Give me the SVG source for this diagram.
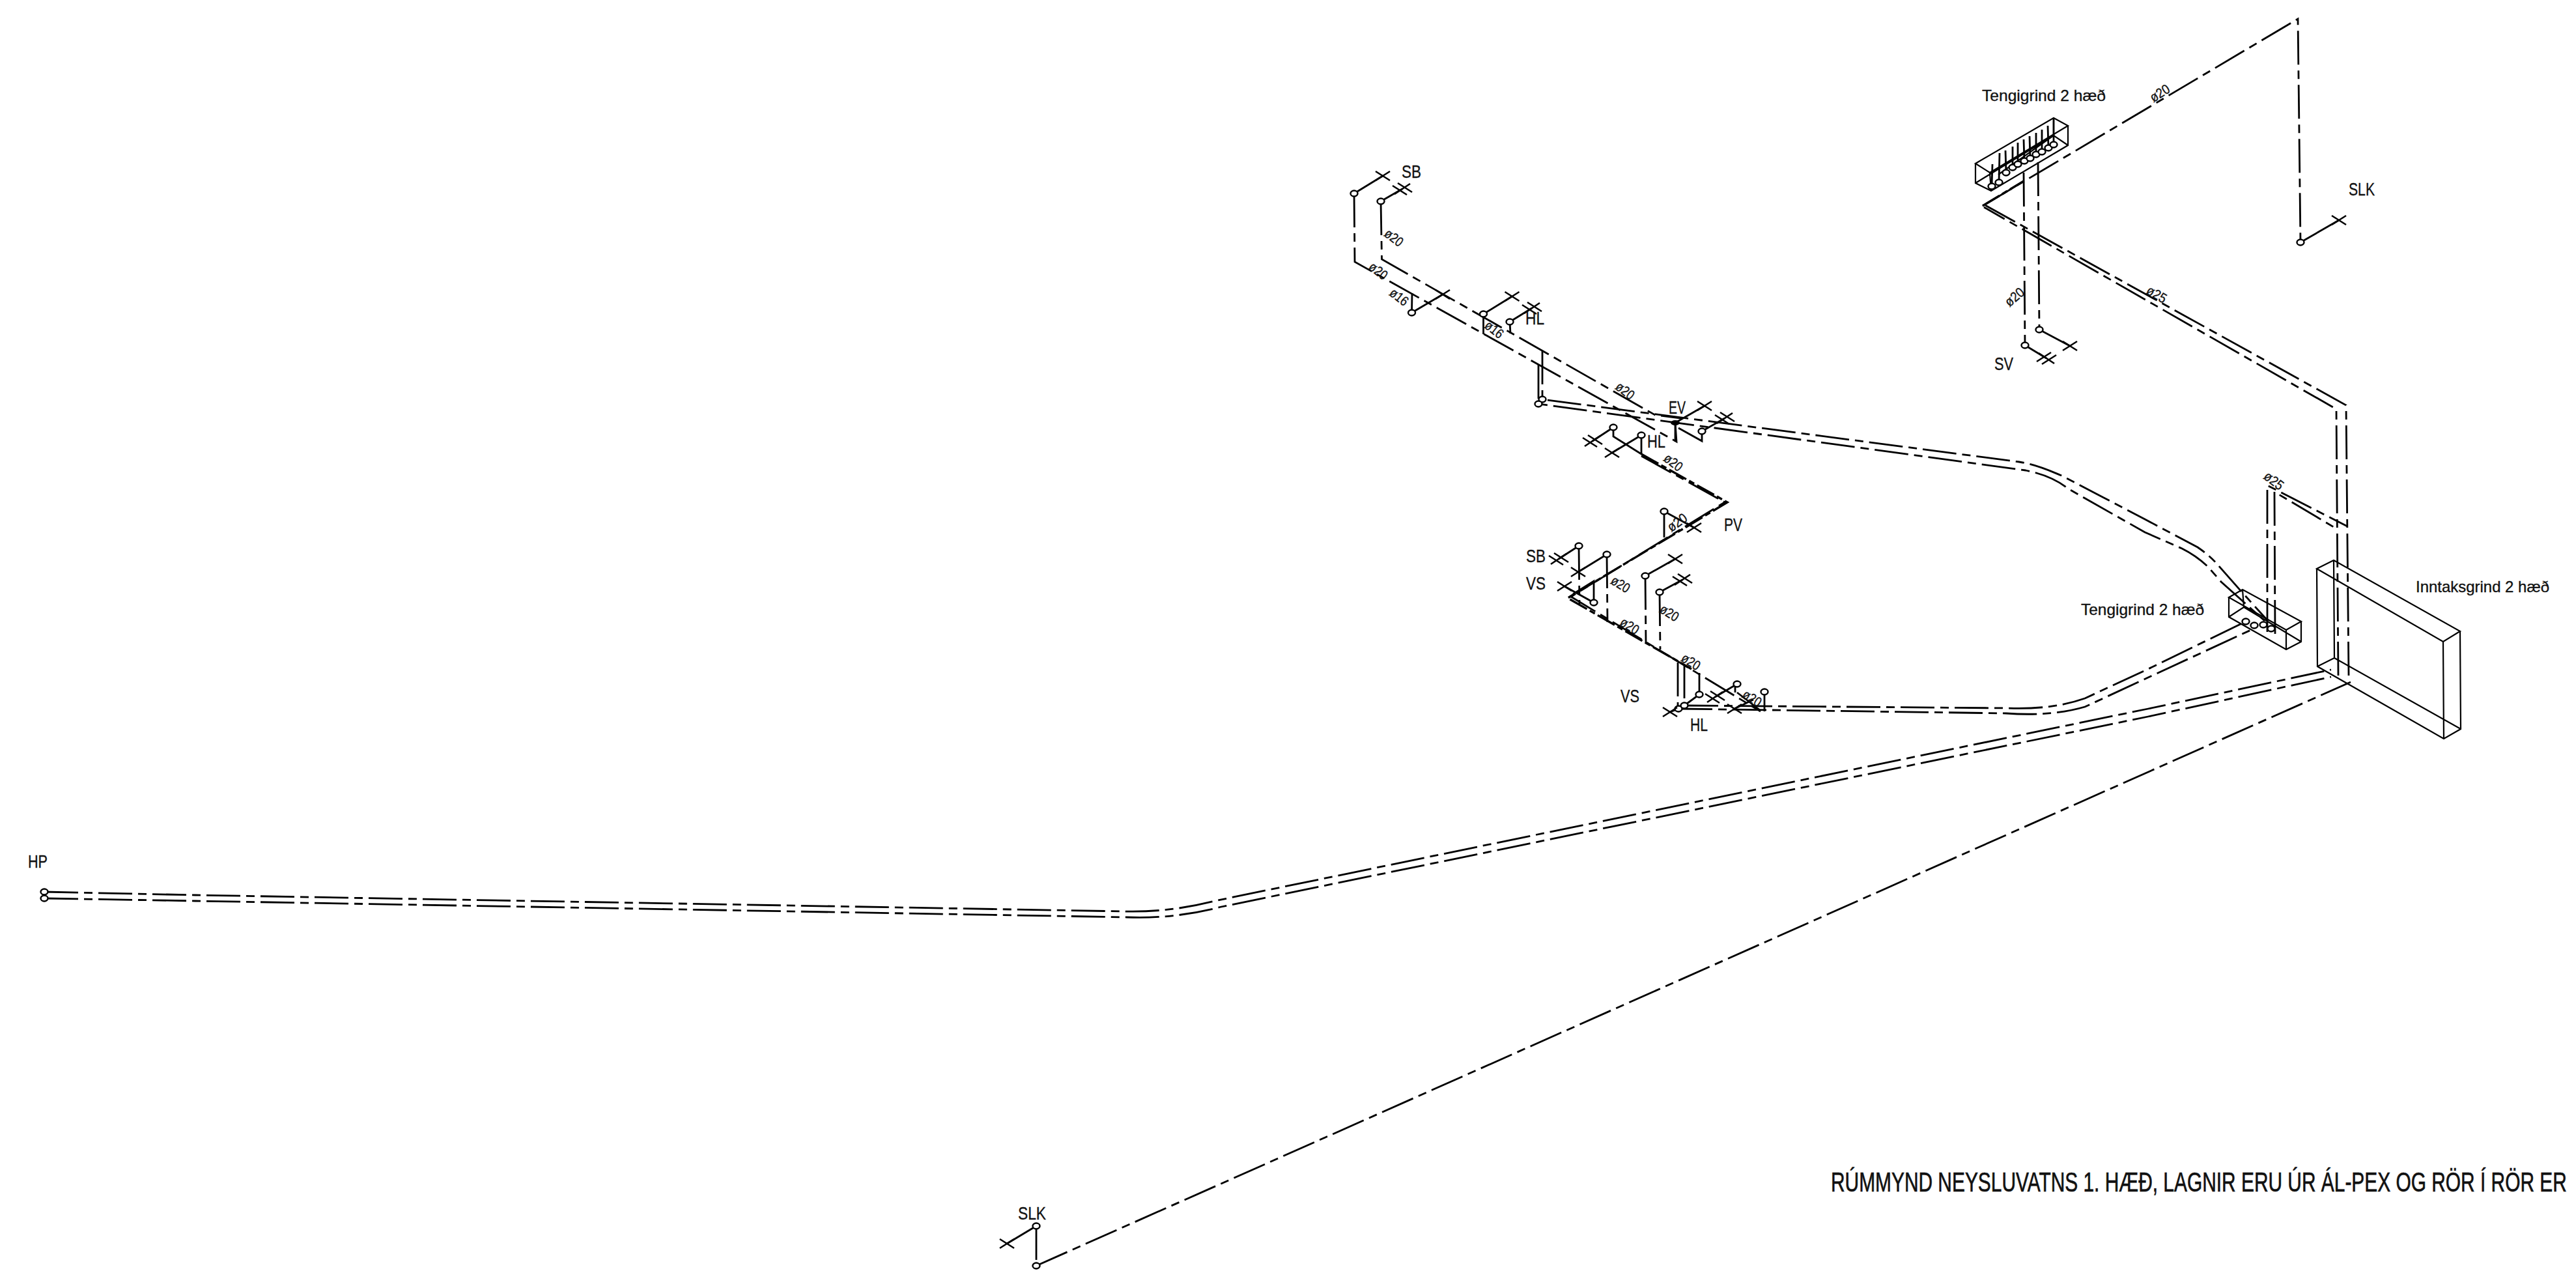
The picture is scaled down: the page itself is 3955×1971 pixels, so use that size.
<svg xmlns="http://www.w3.org/2000/svg" xmlns:xlink="http://www.w3.org/1999/xlink" width="3955" height="1971" viewBox="0 0 3955 1971">
<style>
text{font-family:"Liberation Sans",Arial,sans-serif;fill:#111;stroke:#111;stroke-width:.35}
.l{font-size:28px}.s{font-size:24px}.d{font-size:21px;text-anchor:middle}.t{font-size:42px;stroke-width:.7}
.p,.u,.k,.c,.b,.m line{fill:none;stroke:#000}
.p{stroke-width:2.8;stroke-dasharray:52 9 13 9}
.u{stroke-width:2.8}
.k{stroke-width:3.4;stroke-dasharray:30 5 9 5}
.b{stroke-width:2.2}
.c{fill:#fff;stroke-width:2.4}
.m line{stroke-width:2.6}
</style>
<defs>
<g id="x" class="m"><line x1="-11" y1="-7" x2="11" y2="7"/><line x1="-11" y1="7" x2="11" y2="-7"/></g>
<g id="xx" class="m"><line x1="-15" y1="-5" x2="7" y2="9"/><line x1="-7" y1="-9" x2="15" y2="5"/><line x1="-12" y1="8" x2="12" y2="-8"/></g>
<ellipse id="o" class="c" rx="5.5" ry="4.5"/>
</defs>
<rect width="3955" height="1971" fill="#fff"/>

<g id="connectors">
<path class="p" d="M2079,297 L2080,402 L2574,678 L2572,649"/>
<path class="p" d="M2120,309 L2121.5,398 L2541,637 L2581,642"/>
<path class="p" d="M2368,538 L2368,613 L3100,709 C3130,714 3150,724 3165,730 L3293,797 L3374,840 Q3393,853 3405,867 L3443,910 L3482,953"/>
<path class="p" d="M2362,560 L2362,620 L3110,722 Q3150,730 3175,750 L3293,817 L3350,842 Q3372,853 3390,870 L3410,893 L3477,953"/>
<path class="u" d="M2168,450 L2167.5,480 L2215,452 M2277.5,482 L2277.5,513 M2277.5,482 L2321.5,455 M2318,494 L2319,512 M2318,494 L2352,473"/>
<path class="u" d="M2079,297 L2123,270 M2120,309 L2153,290"/>
<path class="u" d="M2572,649 L2617,623 M2572,649 L2572,678 M2577,657 L2613,677 L2613,662 L2648,642"/>
<path class="u" d="M2477,656 L2445,677 M2477,656 L2477,670 L2520,697 M2520,668 L2520,697 M2520,668 L2475,695"/>
<path class="k" d="M2520,697 L2652,771 L2407,918 L2597,1027"/>
<path class="p" d="M2520,700 L2648,771 L2412,916 L2703,1092"/>
<path class="u" d="M2555,785 L2601,810 M2555,785 L2555,825"/>
<path class="u" d="M2424,838 L2393,858 M2467,851 L2423,878 M2402,900 L2447,925 L2447,892 L2415,912"/>
<path class="p" d="M2424,838 L2425,927 M2467,851 L2468,955 M2526,884 L2527,987 M2548,909 L2549,997"/>
<path class="u" d="M2526,884 L2572,858 M2548,909 L2583,890"/>
<path class="p" d="M2576,1017 L2576,1088 M2586,1020 L2586,1082"/>
<path class="u" d="M2609,1033 L2609,1066 L2586,1083 M2577,1088 L2564,1093 M2667,1050 L2633,1070 M2664,1052 L2664,1063 M2709,1062 L2709,1092 M2663,1088 L2692,1074 M2667,1063 L2702,1090"/>
<path class="p" d="M2586,1083 L3080,1087 Q3150,1090 3201,1072 L3298,1027 L3446,955"/>
<path class="p" d="M2577,1088 L3080,1095 Q3150,1100 3201,1085 L3298,1040 L3456,967"/>
<path class="p" d="M68,1369 L300,1374 L1725,1399 Q1795,1401 1865,1383 L3298,1088 L3579,1028"/>
<path class="p" d="M68,1379 L300,1383 L1730,1408 Q1802,1411 1875,1392 L3298,1100 L3579,1039"/>
<path class="p" d="M1591,1943 L3609,1047"/>
<path class="p" d="M1591,1882 L1591,1943"/>
<path class="u" d="M1591,1882 L1546,1909"/>
<path class="p" d="M3481,970 L3481,745 L3604,808"/>
<path class="p" d="M3493,973 L3492,755 L3588,812"/>
<path class="p" d="M3590,1037 L3587,628 L3046,318"/>
<path class="p" d="M3606,1037 L3602,622 L3046,314"/>
<path class="k" d="M3044,316 L3107,278"/>
<path class="p" d="M3044,316 L3528,29 L3532,372"/>
<path class="u" d="M3532,372 L3591,338"/>
<path class="p" d="M3107,265 L3109,530"/>
<path class="p" d="M3129,249 L3131,506"/>
<path class="u" d="M3109,530 L3142,550 M3131,506 L3178,531"/>
</g>

<g id="ends">
<use xlink:href="#o" x="2079" y="297"/><use xlink:href="#o" x="2120" y="309"/>
<use xlink:href="#x" x="2123" y="270"/><use xlink:href="#xx" x="2153" y="290"/>
<use xlink:href="#o" x="2167.5" y="480"/><use xlink:href="#x" x="2215" y="452"/>
<use xlink:href="#o" x="2277.5" y="482"/><use xlink:href="#x" x="2321.5" y="455"/>
<use xlink:href="#o" x="2318" y="494"/><use xlink:href="#xx" x="2352" y="473"/>
<use xlink:href="#o" x="2368" y="613"/><use xlink:href="#o" x="2362" y="620"/>
<ellipse cx="2572" cy="649" rx="7" ry="4" fill="#000"/>
<use xlink:href="#x" x="2617" y="623"/><use xlink:href="#o" x="2613" y="662"/><use xlink:href="#xx" x="2648" y="642"/>
<use xlink:href="#o" x="2477" y="656"/><use xlink:href="#xx" x="2445" y="677"/>
<use xlink:href="#o" x="2520" y="668"/><use xlink:href="#x" x="2475" y="695"/>
<use xlink:href="#o" x="2555" y="785"/><use xlink:href="#x" x="2601" y="810"/>
<use xlink:href="#o" x="2424" y="838"/><use xlink:href="#xx" x="2393" y="858"/>
<use xlink:href="#o" x="2467" y="851"/><use xlink:href="#x" x="2423" y="878"/>
<use xlink:href="#x" x="2402" y="900"/><use xlink:href="#o" x="2447" y="925"/>
<use xlink:href="#o" x="2526" y="884"/><use xlink:href="#x" x="2572" y="858"/>
<use xlink:href="#o" x="2548" y="909"/><use xlink:href="#xx" x="2583" y="890"/>
<use xlink:href="#o" x="2577" y="1088"/><use xlink:href="#o" x="2586" y="1083"/><use xlink:href="#x" x="2564" y="1093"/>
<use xlink:href="#o" x="2609" y="1066"/><use xlink:href="#xx" x="2633" y="1070"/>
<use xlink:href="#o" x="2667" y="1050"/><use xlink:href="#o" x="2709" y="1062"/><use xlink:href="#x" x="2663" y="1088"/>
<use xlink:href="#o" x="68" y="1369"/><use xlink:href="#o" x="68" y="1379"/>
<use xlink:href="#o" x="1591" y="1882"/><use xlink:href="#o" x="1591" y="1943"/><use xlink:href="#x" x="1546" y="1909"/>
<use xlink:href="#o" x="3532" y="372"/><use xlink:href="#x" x="3591" y="338"/>
<use xlink:href="#o" x="3109" y="530"/><use xlink:href="#o" x="3131" y="506"/>
<use xlink:href="#xx" x="3142" y="550" transform="translate(6284,0) scale(-1,1)"/><use xlink:href="#x" x="3178" y="531"/>
</g>

<g id="tengigrind-upper">
<path class="b" d="M3033,251 L3153,181 L3175,193 L3055,265 Z M3033,251 L3033,281 L3057,293 L3175,223 L3175,193 M3055,265 L3057,293 M3033,281 L3153,208 L3175,223 M3153,181 L3153,208 M3068,268 L3153,208"/>
<path class="u" d="M3058,286 L3059,252 M3069,280 L3070,235 M3080,265 L3079,231 M3090,257 L3090,225 M3098,252 L3098,219 M3108,247 L3107,214 M3117,243 L3116,209 M3126,237 L3126,204 M3135,233 L3135,199 M3145,227 L3144,193 M3153,222 L3153,181"/>
<use xlink:href="#o" x="3058" y="286"/><use xlink:href="#o" x="3069" y="280"/><use xlink:href="#o" x="3080" y="265"/><use xlink:href="#o" x="3090" y="257"/><use xlink:href="#o" x="3098" y="252"/><use xlink:href="#o" x="3108" y="247"/><use xlink:href="#o" x="3117" y="243"/><use xlink:href="#o" x="3126" y="237"/><use xlink:href="#o" x="3135" y="233"/><use xlink:href="#o" x="3145" y="227"/><use xlink:href="#o" x="3153" y="222"/>
</g>

<g id="tengigrind-lower">
<path class="b" d="M3422,917 L3443,905 L3533,954 L3510,967 Z M3422,917 L3422,947 L3510,997 L3533,985 L3533,954 M3510,967 L3510,997 M3422,947 L3445,932 L3533,985 M3443,905 L3445,932"/>
<use xlink:href="#o" x="3448" y="954"/><use xlink:href="#o" x="3461" y="960"/><use xlink:href="#o" x="3475" y="959"/><use xlink:href="#o" x="3487" y="965"/>
</g>

<g id="inntaksgrind">
<path class="b" d="M3557,873 L3583,860 L3777,969 L3751,985 Z M3557,873 L3558,1023 L3752,1134 L3778,1119 L3777,969 M3751,985 L3752,1134 M3583,860 L3584,1010 L3778,1119 M3558,1023 L3584,1010"/>
</g>

<g id="labels">
<text class="l" x="2152" y="273" textLength="30" lengthAdjust="spacingAndGlyphs">SB</text>
<text class="l" x="2342" y="498" textLength="29" lengthAdjust="spacingAndGlyphs">HL</text>
<text class="l" x="2562" y="635" textLength="26" lengthAdjust="spacingAndGlyphs">EV</text>
<text class="l" x="2529" y="687" textLength="28" lengthAdjust="spacingAndGlyphs">HL</text>
<text class="l" x="2647" y="815" textLength="28" lengthAdjust="spacingAndGlyphs">PV</text>
<text class="l" x="2343" y="863" textLength="30" lengthAdjust="spacingAndGlyphs">SB</text>
<text class="l" x="2343" y="905" textLength="30" lengthAdjust="spacingAndGlyphs">VS</text>
<text class="l" x="2488" y="1078" textLength="29" lengthAdjust="spacingAndGlyphs">VS</text>
<text class="l" x="2595" y="1122" textLength="27" lengthAdjust="spacingAndGlyphs">HL</text>
<text class="l" x="1563" y="1872" textLength="43" lengthAdjust="spacingAndGlyphs">SLK</text>
<text class="l" x="43" y="1332" textLength="30" lengthAdjust="spacingAndGlyphs">HP</text>
<text class="l" x="3606" y="300" textLength="40" lengthAdjust="spacingAndGlyphs">SLK</text>
<text class="l" x="3062" y="568" textLength="29" lengthAdjust="spacingAndGlyphs">SV</text>
<text class="s" x="3043" y="155" textLength="190" lengthAdjust="spacingAndGlyphs">Tengigrind 2 hæð</text>
<text class="s" x="3195" y="944" textLength="189" lengthAdjust="spacingAndGlyphs">Tengigrind 2 hæð</text>
<text class="s" x="3709" y="909" textLength="205" lengthAdjust="spacingAndGlyphs">Inntaksgrind 2 hæð</text>
<text class="t" transform="translate(2811,1829) scale(.712,1)">RÚMMYND NEYSLUVATNS 1. HÆÐ, LAGNIR ERU ÚR ÁL-PEX OG RÖR Í RÖR ER</text>
<text class="d" transform="translate(2140,365) rotate(38)" y="7" textLength="30" lengthAdjust="spacingAndGlyphs">ø20</text>
<text class="d" transform="translate(2116,416) rotate(38)" y="7" textLength="30" lengthAdjust="spacingAndGlyphs">ø20</text>
<text class="d" transform="translate(2148,456) rotate(38)" y="7" textLength="30" lengthAdjust="spacingAndGlyphs">ø16</text>
<text class="d" transform="translate(2294,506) rotate(38)" y="7" textLength="30" lengthAdjust="spacingAndGlyphs">ø16</text>
<text class="d" transform="translate(2495,600) rotate(38)" y="7" textLength="30" lengthAdjust="spacingAndGlyphs">ø20</text>
<text class="d" transform="translate(2569,710) rotate(38)" y="7" textLength="30" lengthAdjust="spacingAndGlyphs">ø20</text>
<text class="d" transform="translate(2575,802) rotate(-35)" y="7" textLength="32" lengthAdjust="spacingAndGlyphs">ø20</text>
<text class="d" transform="translate(2488,897) rotate(32)" y="7" textLength="30" lengthAdjust="spacingAndGlyphs">ø20</text>
<text class="d" transform="translate(2563,941) rotate(32)" y="7" textLength="30" lengthAdjust="spacingAndGlyphs">ø20</text>
<text class="d" transform="translate(2502,961) rotate(32)" y="7" textLength="30" lengthAdjust="spacingAndGlyphs">ø20</text>
<text class="d" transform="translate(2596,1016) rotate(32)" y="7" textLength="30" lengthAdjust="spacingAndGlyphs">ø20</text>
<text class="d" transform="translate(2690,1072) rotate(32)" y="7" textLength="30" lengthAdjust="spacingAndGlyphs">ø20</text>
<text class="d" transform="translate(3093,456) rotate(-40)" y="7" textLength="32" lengthAdjust="spacingAndGlyphs">ø20</text>
<text class="d" transform="translate(3316,143) rotate(-32)" y="7" textLength="32" lengthAdjust="spacingAndGlyphs">ø20</text>
<text class="d" transform="translate(3311,452) rotate(30)" y="7" textLength="32" lengthAdjust="spacingAndGlyphs">ø25</text>
<text class="d" transform="translate(3491,738) rotate(38)" y="7" textLength="32" lengthAdjust="spacingAndGlyphs">ø25</text>
</g>
</svg>
